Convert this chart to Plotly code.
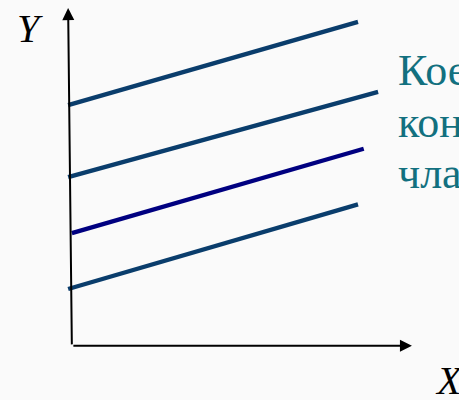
import plotly.graph_objects as go

# Four parallel regression lines (data units)
x_start = [-0.10, -0.10, 0.03, -0.10]
y_start = [8.36, 5.85, 3.90, 1.95]
x_end = [10.00, 10.70, 10.20, 10.00]
y_end = [11.26, 8.82, 6.84, 4.90]
line_colors = ["#0a3d6c", "#0a3d6c", "#000080", "#0a3d6c"]

text_lines = ["Кое", "кон", "чла"]
text_y = [9.55, 7.77, 5.99]

fig = go.Figure()
for xs, ys, xe, ye, c in zip(x_start, y_start, x_end, y_end, line_colors):
    fig.add_trace(go.Scatter(x=[xs, xe], y=[ys, ye], mode="lines",
                             line=dict(color=c, width=4.3), showlegend=False,
                             hoverinfo="skip"))

# axes with arrows
fig.add_annotation(x=-0.10, y=11.74, ax=0.03, ay=-0.03, xref="x", yref="y",
                   axref="x", ayref="y", showarrow=True, arrowhead=2,
                   arrowsize=1.2, arrowwidth=2, arrowcolor="#000000", text="")
fig.add_annotation(x=11.88, y=-0.03, ax=0.03, ay=-0.03, xref="x", yref="y",
                   axref="x", ayref="y", showarrow=True, arrowhead=2,
                   arrowsize=1.2, arrowwidth=2, arrowcolor="#000000", text="")

fig.add_annotation(x=-1.43, y=11.03, text="Y", showarrow=False,
                   font=dict(family="Liberation Serif", size=40, color="#000000", style="italic"),
                   xanchor="center", yanchor="middle")
fig.add_annotation(x=12.60, y=-1.25, text="X", showarrow=False,
                   font=dict(family="Liberation Serif", size=40, color="#000000", style="italic"),
                   xanchor="left", yanchor="middle")

for t, ty in zip(text_lines, text_y):
    fig.add_annotation(x=11.33, y=ty, text=t, showarrow=False,
                       font=dict(family="Liberation Serif", size=44, color="#12707f"),
                       xanchor="left", yanchor="middle")

fig.update_layout(
    width=459, height=400,
    margin=dict(l=0, r=0, t=0, b=0),
    paper_bgcolor="#fafafa", plot_bgcolor="#fafafa",
    xaxis=dict(range=[-2.474, 13.519], visible=False, fixedrange=True),
    yaxis=dict(range=[-1.916, 12.021], visible=False, fixedrange=True),
)
fig.write_html("out.html", config={"displayModeBar": False},
               post_script="document.body.style.margin='0';document.body.style.overflow='hidden';")
